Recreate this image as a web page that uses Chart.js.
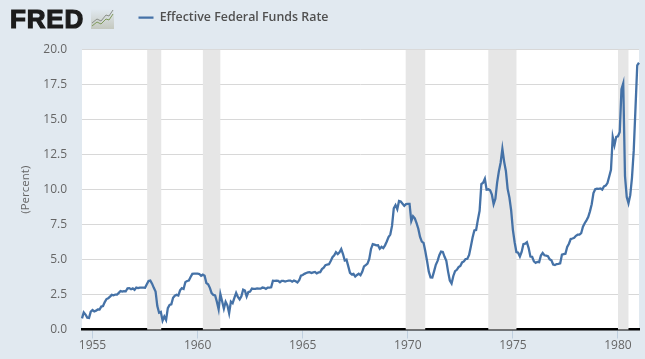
<!DOCTYPE html>
<html><head><meta charset="utf-8">
<script src="https://cdn.jsdelivr.net/npm/chart.js@4"></script>
<style>
html,body{margin:0;padding:0;background:#e1e9f0;width:645px;height:359px;overflow:hidden}
#c{position:absolute;left:0;top:0}
#logo{position:absolute;left:10px;top:0px;font:bold 26px/38px "Liberation Sans",sans-serif;color:#1c1c1c;letter-spacing:.8px;-webkit-text-stroke:1.2px #1c1c1c}
#mark{position:absolute;left:91px;top:9px}
</style></head><body>
<canvas id="c" width="645" height="359"></canvas>
<div id="logo">FRED</div>
<svg id="mark" width="23" height="20" viewBox="0 0 23 20">
<defs><linearGradient id="g" x1="0" y1="0" x2="0" y2="1"><stop offset="0" stop-color="#e1e9f0"/><stop offset="1" stop-color="#c4c8be"/></linearGradient></defs>
<rect x="0" y="0" width="23" height="20" fill="url(#g)"/>
<polyline points="1,14 6,10 10,12 15,6 18,7 22,1" fill="none" stroke="#8a8f88" stroke-width="1"/>
<polyline points="1,17 6,13 10,15 15,10 18,11 22,5" fill="none" stroke="#7f9a5a" stroke-width="1"/>
</svg>
<script>
const seriesName = "Effective Federal Funds Rate";
const axisTitle = "(Percent)";
const firstYear = 1954, firstMonth = 6;
const rate = [
0.80,1.22,1.07,0.85,0.83,1.28,
1.39,1.29,1.35,1.43,1.43,1.64,1.68,1.96,2.18,2.24,2.35,2.48,
2.45,2.50,2.50,2.62,2.75,2.71,2.75,2.73,2.95,2.96,2.88,2.94,
2.84,3.00,2.96,3.00,3.00,3.00,2.99,3.24,3.47,3.50,3.28,2.98,
2.72,1.67,1.20,1.26,0.63,0.93,0.68,1.53,1.76,1.80,2.27,2.42,
2.48,2.43,2.80,2.96,2.90,3.39,3.47,3.50,3.76,3.98,4.00,3.99,
3.99,3.97,3.84,3.92,3.85,3.32,3.23,2.98,2.60,2.47,2.44,1.98,
1.45,2.54,2.02,1.49,1.98,1.73,1.17,2.00,1.88,2.26,2.62,2.33,
2.15,2.37,2.85,2.78,2.36,2.68,2.71,2.93,2.90,2.90,2.94,2.93,
2.92,3.00,2.98,2.90,3.00,2.99,3.02,3.49,3.48,3.50,3.48,3.38,
3.48,3.48,3.43,3.47,3.50,3.50,3.42,3.50,3.45,3.36,3.52,3.85,
3.90,3.98,4.04,4.09,4.10,4.04,4.09,4.12,4.01,4.08,4.10,4.32,
4.42,4.60,4.65,4.67,4.90,5.17,5.30,5.53,5.40,5.53,5.76,5.40,
4.94,5.00,4.53,4.05,3.94,3.98,3.79,3.90,3.99,3.88,4.13,4.51,
4.61,4.71,5.05,5.76,6.11,6.07,6.02,6.03,5.78,5.91,5.82,6.02,
6.30,6.61,6.79,7.41,8.67,8.90,8.61,9.19,9.15,9.00,8.85,8.97,
8.98,8.98,7.76,8.10,7.95,7.61,7.21,6.62,6.29,6.20,5.60,4.90,
4.14,3.72,3.71,4.16,4.63,4.91,5.31,5.57,5.55,5.20,4.91,4.14,
3.50,3.29,3.83,4.17,4.27,4.46,4.55,4.80,4.87,5.04,5.06,5.33,
5.94,6.58,7.09,7.12,7.84,8.49,10.40,10.50,10.78,10.01,10.03,9.95,
9.65,8.97,9.35,10.51,11.31,11.93,12.92,12.01,11.34,10.06,9.45,8.53,
7.13,6.24,5.54,5.49,5.22,5.55,6.10,6.14,6.24,5.82,5.22,5.20,
4.87,4.77,4.84,4.82,5.29,5.48,5.31,5.29,5.25,5.02,4.95,4.65,
4.61,4.68,4.69,4.73,5.35,5.39,5.42,5.90,6.14,6.47,6.51,6.56,
6.70,6.78,6.79,6.89,7.36,7.60,7.81,8.04,8.45,8.96,9.76,10.03,
10.07,10.06,10.09,10.01,10.24,10.29,10.47,10.94,11.43,13.77,13.18,13.78,
13.82,14.13,17.19,17.61,10.98,9.47,9.03,9.61,10.87,12.81,15.85,18.90,
19.08];
const recessionStart = [1957.6, 1960.25, 1969.9, 1973.83, 1980.0];
const recessionEnd = [1958.27, 1961.08, 1970.83, 1975.17, 1980.5];
const xTicks = [1955, 1960, 1965, 1970, 1975, 1980];
const yMax = 20, yStep = 2.5;

const points = rate.map((v, i) => ({ x: firstYear + (firstMonth + i) / 12, y: v }));

const recessionPlugin = {
  id: "recessions",
  beforeDraw(chart) {
    const a = chart.chartArea, c = chart.ctx;
    c.save(); c.fillStyle = "#ffffff";
    c.fillRect(a.left, a.top, a.width, a.height); c.restore();
  },
  beforeDatasetsDraw(chart) {
    const a = chart.chartArea, c = chart.ctx, x = chart.scales.x;
    c.save(); c.fillStyle = "#e6e6e6";
    recessionStart.forEach((s, i) => {
      const l = x.getPixelForValue(s), r = x.getPixelForValue(recessionEnd[i]);
      c.fillRect(l, a.top, r - l, a.height);
    });
    c.restore();
  },
  afterLayout(chart) {
    chart.legend.left = 111;
    chart.legend.top = -16;
  }
};

new Chart(document.getElementById("c"), {
  type: "line",
  data: { datasets: [{ label: seriesName, data: points, borderColor: "#4572a7",
    backgroundColor: "#4572a7", borderWidth: 2.3, pointRadius: 0, tension: 0, clip: 2 }] },
  plugins: [recessionPlugin],
  options: {
    responsive: false, animation: false, events: [],
    layout: { padding: { left: 19, right: 6, top: 0, bottom: 0 } },
    plugins: {
      tooltip: { enabled: false },
      legend: { position: "top", align: "start",
        labels: { boxWidth: 15, boxHeight: 0, padding: 27.5, color: "#505050",
          font: { family: "'Open Sans'", size: 12.4, weight: "600" } } }
    },
    scales: {
      x: { type: "linear", min: firstYear + firstMonth / 12, max: 1981,
        afterBuildTicks(s) { s.ticks = xTicks.map(v => ({ value: v })); },
        afterFit(s) { s.height = 29.5; },
        grid: { display: true, drawOnChartArea: false, drawTicks: true, tickLength: 9, tickColor: "#c0d0e0" },
        border: { color: "#000000", width: 2.5 },
        ticks: { color: "#666666", padding: 0, maxRotation: 0, autoSkip: false,
          font: { family: "'Open Sans'", size: 12 }, callback: v => String(v) } },
      y: { min: 0, max: yMax,
        afterFit(s) { s.width = 63; },
        grid: { color: "#d8d8d8", lineWidth: 1, drawTicks: false },
        border: { display: false },
        title: { display: true, text: axisTitle, color: "#666666", padding: 0,
          font: { family: "'Open Sans'", size: 11.5 } },
        ticks: { stepSize: yStep, color: "#666666", padding: 15,
          font: { family: "'Open Sans'", size: 12 }, callback: v => v.toFixed(1) } }
    }
  }
});
</script>
</body></html>
